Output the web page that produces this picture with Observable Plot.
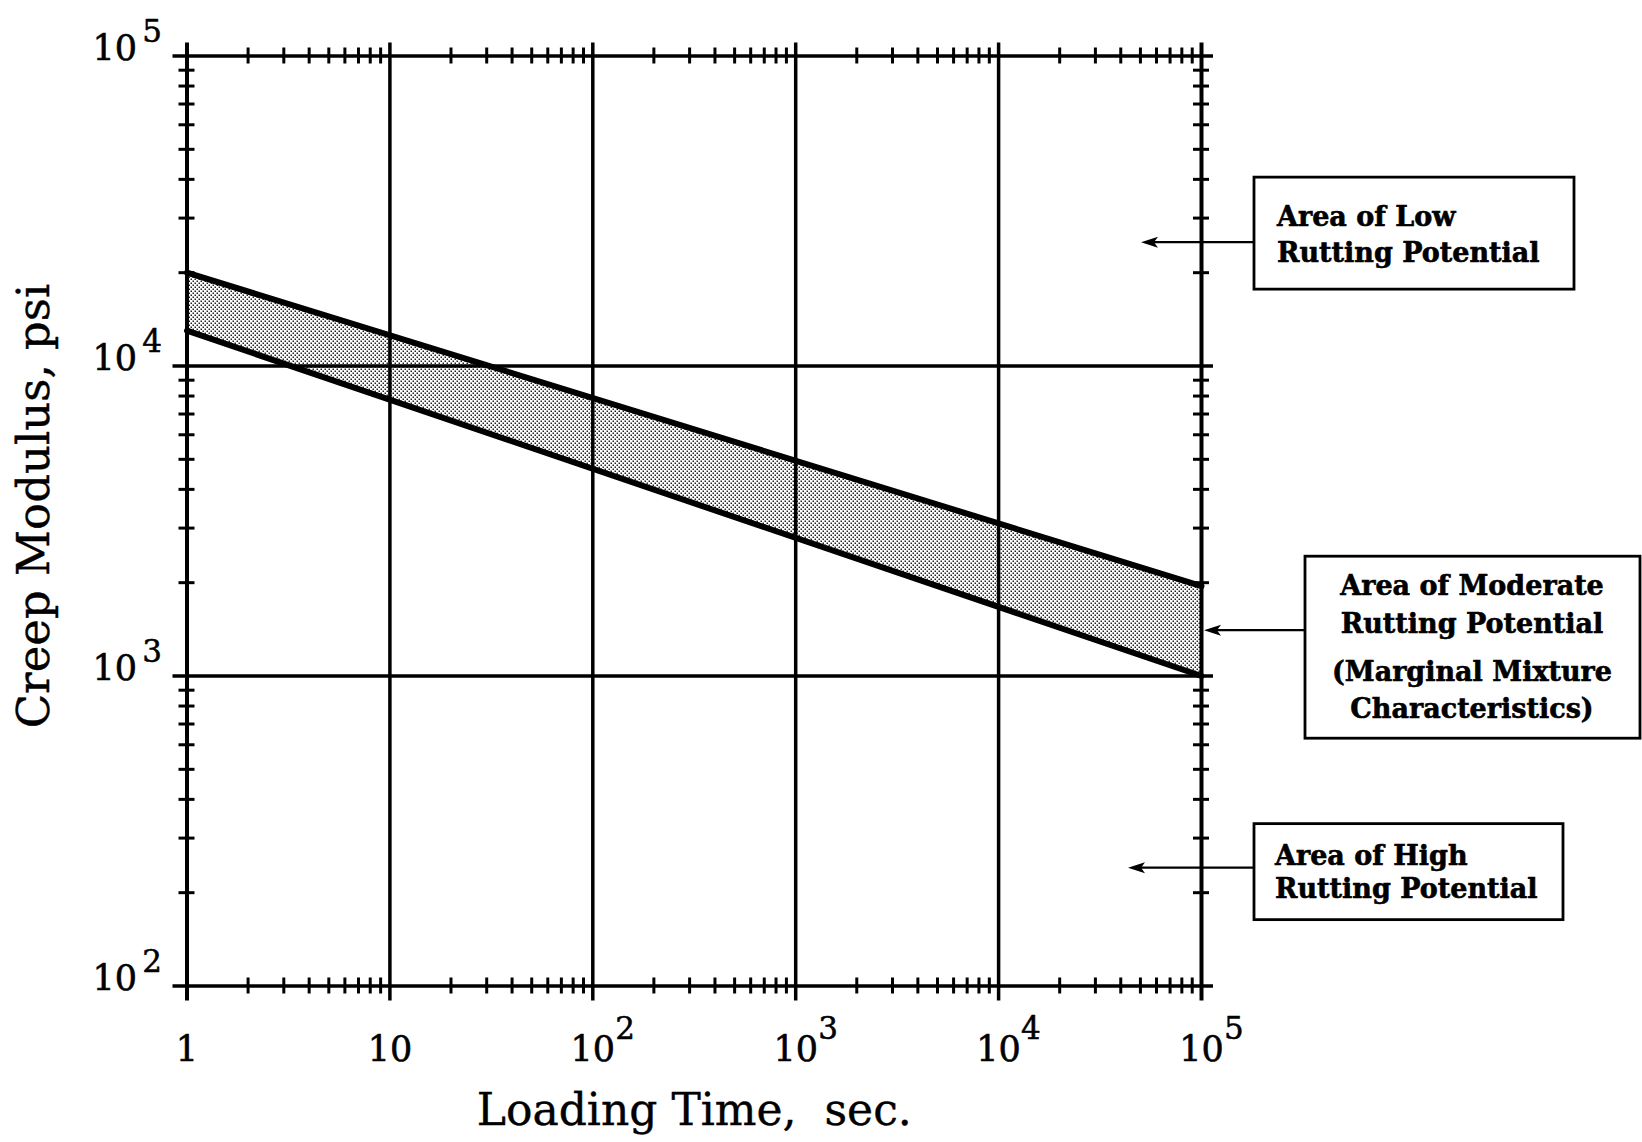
<!DOCTYPE html>
<html><head><meta charset="utf-8">
<script src="https://cdn.jsdelivr.net/npm/d3@7"></script>
<script src="https://cdn.jsdelivr.net/npm/@observablehq/plot@0.6"></script>
<style>
html,body{margin:0;padding:0;background:#fff;}
#chart{width:1642px;height:1142px;}
svg text{white-space:pre;}
</style></head>
<body><div id="chart"></div>
<script>
// ---- data ----
const loadingTime   = [1, 100000];          // sec
const upperModulus  = [20000, 1950];        // psi, upper band boundary
const lowerModulus  = [13000, 1000];        // psi, lower band boundary
const xMajorTicks   = [1, 10, 100, 1000, 10000, 100000];
const xTickBase     = ["1", "10", "10", "10", "10", "10"];
const xTickExp      = ["", "", "2", "3", "4", "5"];
const yMajorTicks   = [100, 1000, 10000, 100000];
const yTickBase     = ["10", "10", "10", "10"];
const yTickExp      = ["2", "3", "4", "5"];
const zoneLevels    = [25000, 1400, 240];   // modulus each arrow points to
const zoneText      = [
  ["Area of Low", "Rutting Potential"],
  ["Area of Moderate", "Rutting Potential", "(Marginal Mixture", "Characteristics)"],
  ["Area of High", "Rutting Potential"]
];
const xTitle = "Loading Time,  sec.";
const yTitle = "Creep Modulus, psi";

const band = loadingTime.map((t, i) => ({t, hi: upperModulus[i], lo: lowerModulus[i]}));
const xMinor = d3.scaleLog().domain([1, 1e5]).ticks().filter(v => !xMajorTicks.includes(v));
const yMinor = d3.scaleLog().domain([100, 1e5]).ticks().filter(v => !yMajorTicks.includes(v));
const xInner = xMajorTicks.slice(1, -1);
const xEdges = [xMajorTicks[0], xMajorTicks[xMajorTicks.length - 1]];
const xExpTicks = xMajorTicks.filter((d, i) => xTickExp[i] !== "");

const plot = Plot.plot({
  width: 1642, height: 1142,
  marginLeft: 186.5, marginRight: 441, marginTop: 55.5, marginBottom: 156.5,
  style: {fontFamily: "DejaVu Serif", color: "#000", background: "#fff"},
  x: {type: "log", domain: [1, 1e5], axis: null},
  y: {type: "log", domain: [100, 1e5], axis: null},
  marks: [
    Plot.areaY(band, {x: "t", y1: "lo", y2: "hi", fill: "url(#stipple)"}),
    Plot.ruleX(xInner, {stroke: "#000", strokeWidth: 3.5, insetTop: -13, insetBottom: -15}),
    Plot.ruleX(xEdges, {stroke: "#000", strokeWidth: 4, insetTop: -13, insetBottom: -15}),
    Plot.ruleY(yMajorTicks, {stroke: "#000", strokeWidth: 3.5, insetLeft: -14, insetRight: -12}),
    Plot.line(band, {x: "t", y: "hi", stroke: "#000", strokeWidth: 6}),
    Plot.line(band, {x: "t", y: "lo", stroke: "#000", strokeWidth: 6}),
    // minor ticks crossing the frame
    Plot.ruleY(yMinor, {y: d => d, x1: xEdges[0], x2: xEdges[0], insetLeft: -8, insetRight: -8, stroke: "#000", strokeWidth: 3}),
    Plot.ruleY(yMinor, {y: d => d, x1: xEdges[1], x2: xEdges[1], insetLeft: -8, insetRight: -8, stroke: "#000", strokeWidth: 3}),
    Plot.ruleX(xMinor, {x: d => d, y1: 100, y2: 100, insetTop: -8, insetBottom: -8, stroke: "#000", strokeWidth: 3}),
    Plot.ruleX(xMinor, {x: d => d, y1: 1e5, y2: 1e5, insetTop: -8, insetBottom: -8, stroke: "#000", strokeWidth: 3}),
    // tick labels
    Plot.text(xMajorTicks, {x: d => d, text: (d, i) => xTickBase[i], frameAnchor: "bottom", lineAnchor: "bottom", textAnchor: "middle", dy: 74.5, fontSize: 35, fill: "#000", stroke: "#000", strokeWidth: 0.6}),
    Plot.text(xExpTicks, {x: d => d, text: d => xTickExp[xMajorTicks.indexOf(d)], frameAnchor: "bottom", lineAnchor: "bottom", textAnchor: "start", dx: 22.5, dy: 53, fontSize: 31, fill: "#000", stroke: "#000", strokeWidth: 0.5}),
    Plot.text(yMajorTicks, {y: d => d, text: (d, i) => yTickBase[i], frameAnchor: "left", lineAnchor: "bottom", textAnchor: "end", dx: -50, dy: 4, fontSize: 35, fill: "#000", stroke: "#000", strokeWidth: 0.6}),
    Plot.text(yMajorTicks, {y: d => d, text: (d, i) => yTickExp[i], frameAnchor: "left", lineAnchor: "bottom", textAnchor: "end", dx: -25, dy: -14, fontSize: 31, fill: "#000", stroke: "#000", strokeWidth: 0.5}),
    // axis titles
    Plot.text([xTitle], {text: d => d, frameAnchor: "bottom", lineAnchor: "bottom", textAnchor: "middle", dy: 138.5, fontSize: 44, fill: "#000", stroke: "#000", strokeWidth: 0.4}),
    Plot.text([yTitle], {text: d => d, frameAnchor: "left", lineAnchor: "bottom", textAnchor: "middle", rotate: -90, dx: -138.5, dy: -15, fontSize: 45, fill: "#000", stroke: "#000", strokeWidth: 0.4})
  ]
});

const svg = d3.select(plot);
// stipple pattern for the band
const defs = svg.insert("defs", ":first-child");
const pat = defs.append("pattern").attr("id", "stipple").attr("patternUnits", "userSpaceOnUse")
  .attr("width", 4).attr("height", 4);
pat.append("rect").attr("width", 4).attr("height", 4).attr("fill", "#fff");
pat.append("rect").attr("x", 0.5).attr("y", 0.5).attr("width", 1.5).attr("height", 1.5).attr("fill", "#222");
pat.append("rect").attr("x", 2.5).attr("y", 2.5).attr("width", 1.5).attr("height", 1.5).attr("fill", "#222");

// annotation boxes and arrows (layout relative to frame's right edge and the scale)
const ys = plot.scale("y"), xs = plot.scale("x");
const xr = xs.apply(xEdges[1]);
const layout = [
  {tip: -60, left: 53, right: 373, top: -65, bottom: 47, anchor: "start", tx: 23, base: [-16, 20]},
  {tip: 3, left: 104, right: 439, top: -74, bottom: 108, anchor: "middle", tx: 167, base: [-35, 3, 51, 88]},
  {tip: -73, left: 53, right: 362, top: -44, bottom: 52, anchor: "start", tx: 21, base: [-3, 30]}
];
const ann = svg.append("g");
zoneLevels.forEach((lvl, i) => {
  const L = layout[i];
  const y = ys.apply(lvl);
  const x0 = xr + L.left, xt = xr + L.tip;
  ann.append("line").attr("x1", x0).attr("x2", xt + 12).attr("y1", y).attr("y2", y)
    .attr("stroke", "#000").attr("stroke-width", 2.2);
  ann.append("path").attr("d", `M${xt},${y} L${xt + 17},${y - 5.5} L${xt + 13},${y} L${xt + 17},${y + 5.5} Z`).attr("fill", "#000");
  ann.append("rect").attr("x", x0).attr("y", y + L.top).attr("width", L.right - L.left).attr("height", L.bottom - L.top)
    .attr("fill", "#fff").attr("stroke", "#000").attr("stroke-width", 2.8);
  zoneText[i].forEach((s, j) => {
    ann.append("text").attr("x", x0 + L.tx).attr("y", y + L.base[j]).attr("text-anchor", L.anchor)
      .attr("font-family", "DejaVu Serif").attr("font-weight", "bold").attr("font-size", 27)
      .attr("fill", "#000").attr("stroke", "#000").attr("stroke-width", 0.6).text(s);
  });
});

document.getElementById("chart").appendChild(plot);
</script>
</body></html>
